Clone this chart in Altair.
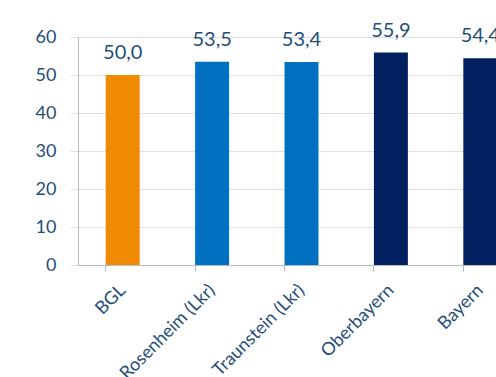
import altair as alt
import pandas as pd

categories = ["BGL", "Rosenheim (Lkr)", "Traunstein (Lkr)", "Oberbayern", "Bayern"]
values = [50.0, 53.5, 53.4, 55.9, 54.4]
colors = ["#F08A00", "#0070C0", "#0070C0", "#002060", "#002060"]
y_ticks = [0, 10, 20, 30, 40, 50, 60]

df = pd.DataFrame({
    "cat": categories,
    "val": values,
    "col": colors,
    "lab": [f"{v:.1f}".replace(".", ",") for v in values],
})

FONT = "Lato"
TXT = "#1F4E79"

x = alt.X("cat:N", sort=categories, title=None,
          scale=alt.Scale(range=[0, 447], paddingInner=0.62, paddingOuter=0.31),
          axis=alt.Axis(labelAngle=-45, labelFontSize=18, labelColor=TXT, labelFont=FONT,
                        bandPosition=0, tickSize=6, tickColor="#B5B9C8", domainColor="#B5B9C8",
                        labelPadding=10, labelOffset=-6, grid=False, labelOverlap=False))
y = alt.Y("val:Q", title=None,
          scale=alt.Scale(domain=[0, 60]),
          axis=alt.Axis(values=y_ticks, labelFontSize=18, labelColor=TXT, labelOverlap=False,
                        labelFont=FONT, tickSize=8, tickColor="#DDE0E6", domainColor="#B5B9C8",
                        gridColor="#DDE0E6", labelPadding=14))

bars = alt.Chart(df).mark_bar().encode(x=x, y=y, color=alt.Color("col:N", scale=None))
text = alt.Chart(df).mark_text(baseline="alphabetic", dy=-16, fontSize=20, font=FONT, color=TXT).encode(
    x=x, y=y, text="lab:N")

chart = (bars + text).properties(
    width=418, height=228,
    autosize=alt.AutoSizeParams(type="none"),
    padding={"left": 78, "top": 37, "right": 0, "bottom": 112},
).configure_view(stroke=None).configure(background="white")

chart.save("out.html", embed_options={"renderer": "svg", "actions": False})
